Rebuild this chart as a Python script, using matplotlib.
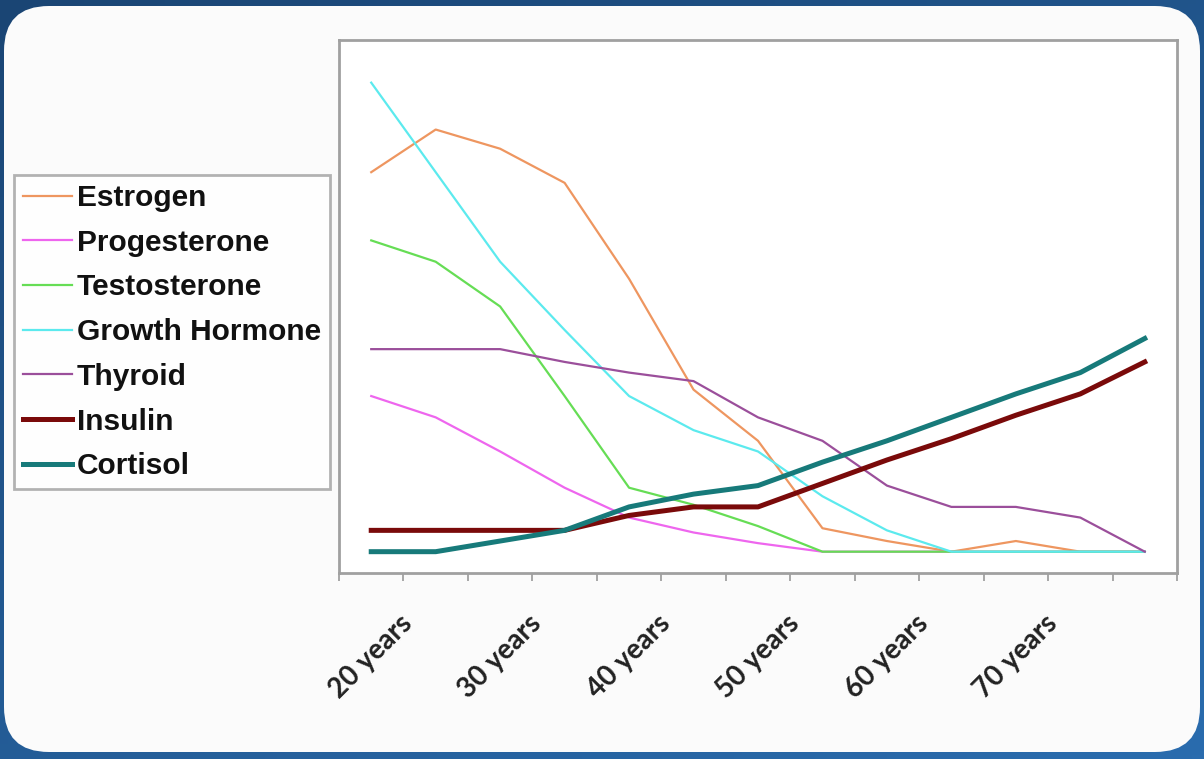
import numpy as np
import matplotlib
matplotlib.use("Agg")
import matplotlib.pyplot as plt
from matplotlib.patches import FancyBboxPatch

# hormone levels by age (relative units)
age_labels = ["20 years", "", "30 years", "", "40 years", "", "50 years", "",
              "60 years", "", "70 years", "", ""]

estrogen = [18.8, 20.8, 19.9, 18.3, 13.8, 8.6, 6.2, 2.1, 1.5, 1.0, 1.5, 1.0, 1.0]
progesterone = [8.3, 7.3, 5.7, 4.0, 2.6, 1.9, 1.4, 1.0, 1.0, 1.0, 1.0, 1.0, 1.0]
testosterone = [15.6, 14.6, 12.5, 8.3, 4.0, 3.2, 2.2, 1.0, 1.0, 1.0, 1.0, 1.0, 1.0]
growth_hormone = [23.0, 18.8, 14.6, 11.4, 8.3, 6.7, 5.7, 3.6, 2.0, 1.0, 1.0, 1.0, 1.0]
thyroid = [10.5, 10.5, 10.5, 9.9, 9.4, 9.0, 7.3, 6.2, 4.1, 3.1, 3.1, 2.6, 1.0]
insulin = [2.0, 2.0, 2.0, 2.0, 2.7, 3.1, 3.1, 4.2, 5.3, 6.3, 7.4, 8.4, 9.9]
cortisol = [1.0, 1.0, 1.5, 2.0, 3.1, 3.7, 4.1, 5.2, 6.2, 7.3, 8.4, 9.4, 11.0]

series = [
    ("Estrogen", estrogen, "#EE9660", 1.6),
    ("Progesterone", progesterone, "#EE66EE", 1.6),
    ("Testosterone", testosterone, "#66DD55", 1.6),
    ("Growth Hormone", growth_hormone, "#5CEAEE", 1.6),
    ("Thyroid", thyroid, "#9B4F9B", 1.6),
    ("Insulin", insulin, "#7A0A0A", 3.6),
    ("Cortisol", cortisol, "#177A7A", 3.6),
]

W, H = 1204, 759
fig = plt.figure(figsize=(W / 100, H / 100), dpi=100)

# blue backdrop with rounded white card
bg = fig.add_axes([0, 0, 1, 1], zorder=0)
gy, gx = np.mgrid[0:1:200j, 0:1:300j]
grad = 0.6 * gy + 0.4 * gx
bg.imshow(grad, extent=[0, W, H, 0], cmap=matplotlib.colors.LinearSegmentedColormap.from_list(
    "bgblue", ["#1A4574", "#2A6CAE"]), aspect="auto")
card = FancyBboxPatch((4 + 45, 6 + 45), 1196 - 90, 746 - 90,
                      boxstyle="round,pad=45", facecolor="#FBFBFB", edgecolor="none")
bg.add_patch(card)
bg.set_xlim(0, W)
bg.set_ylim(H, 0)
bg.axis("off")

ax = fig.add_axes([339 / W, 1 - 573 / H, (1177 - 339) / W, (573 - 40) / H], zorder=1)
ax.set_facecolor("white")

x = np.arange(len(age_labels))
for name, vals, color, lw in series:
    ax.plot(x, vals, color=color, lw=lw, label=name, solid_joinstyle="round")

ax.set_xlim(-0.5, len(age_labels) - 0.5)
ax.set_ylim(0, 25)
ax.set_yticks([])

ax.set_xticks(x)
ax.set_xticklabels(age_labels, rotation=45, ha="center", fontsize=20,
                   fontweight="bold", family="Lato", color="#222222")
ax.tick_params(axis="x", which="major", length=0, pad=27)
ax.set_xticks(np.arange(-0.5, len(age_labels)), minor=True)
ax.tick_params(axis="x", which="minor", length=6, width=1.2, color="#999999")

for side in ["left", "right", "top", "bottom"]:
    ax.spines[side].set_color("#A0A0A0")
    ax.spines[side].set_linewidth(2)

leg = fig.legend(loc="upper left", bbox_to_anchor=(14 / W, 1 - 175 / H),
                 frameon=True, fancybox=False, prop={"family": "Liberation Sans",
                                                     "weight": "bold", "size": 21.5},
                 handlelength=1.65, handletextpad=0.15, labelspacing=0.56,
                 borderpad=0.3, borderaxespad=0)
leg.get_frame().set_edgecolor("#A0A0A0")
leg.get_frame().set_linewidth(2)
for t in leg.get_texts():
    t.set_color("#111111")

fig.savefig("out.png", dpi=100, facecolor="#1A4574")
